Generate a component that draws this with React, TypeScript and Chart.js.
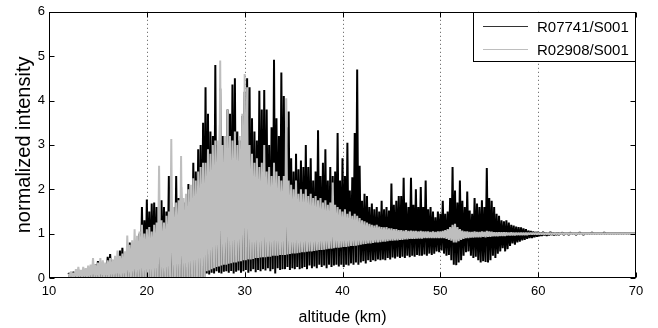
import React, { useEffect, useRef } from "react";
import { Chart, registerables } from "chart.js";

Chart.register(...registerables);

// Altitude sampling of the envelopes (km)
const X_START = 12;
const X_STEP = 0.25;

// Series names
const SERIES_NAMES = ["R07741/S001", "R02908/S001"];

// Axis ticks
const X_TICKS = [10, 20, 30, 40, 50, 60, 70];
const Y_TICKS = [0, 1, 2, 3, 4, 5, 6];
const GRID_X = [20, 30, 40, 50, 60];

// R07741/S001 (black): local maxima per 0.25 km bin
const BLACK_HI = [
  0.12, 0.1, 0.14, 0.1, 0.18, 0.12, 0.2, 0.15,
  0.22, 0.2, 0.28, 0.3, 0.38, 0.3, 0.35, 0.28,
  0.48, 0.54, 0.4, 0.35, 0.45, 0.62, 0.68, 0.5,
  0.55, 0.8, 0.75, 0.6, 0.9, 1.0, 1.6, 1.3,
  1.77, 1.5, 1.68, 1.7, 1.6, 1.35, 1.75, 1.6,
  1.5, 2.3, 1.7, 1.6, 2.3, 1.8, 2.05, 1.7,
  1.8, 2.12, 1.9, 2.6, 2.4, 2.9, 3.0, 3.5,
  4.3, 3.7, 3.3, 3.2, 4.8, 3.0, 4.27, 3.2,
  2.6, 3.8, 3.7, 4.36, 4.5, 3.3, 3.1, 3.65,
  4.2, 4.5, 4.3, 3.6, 3.3, 3.1, 4.22, 3.8,
  4.24, 3.8, 3.0, 3.4, 4.92, 3.6, 3.2, 4.63,
  4.1, 3.4, 3.75, 2.7, 2.4, 2.8, 2.45, 2.65,
  2.5, 3.0, 2.5, 2.7, 2.2, 2.4, 3.33, 2.3,
  2.6, 2.9, 2.2, 2.5, 2.3, 2.4, 3.27, 2.2,
  2.7, 2.3, 3.05, 1.97, 2.27, 3.27, 4.7, 2.53,
  1.74, 1.9, 1.85, 1.6, 1.68, 1.55, 1.6, 1.5,
  1.74, 1.55, 1.6, 1.52, 2.13, 1.65, 1.74, 1.85,
  1.85, 2.26, 1.7, 1.6, 2.26, 1.65, 2.0, 1.6,
  2.05, 1.6, 2.2, 1.55, 1.6, 1.5, 1.37, 1.5,
  1.45, 1.74, 1.45, 1.5, 1.8, 2.5, 1.97, 1.7,
  2.2, 1.74, 1.6, 1.95, 1.52, 1.45, 1.8, 1.68,
  1.6, 1.75, 1.6, 2.48, 1.8, 1.74, 1.6, 1.45,
  1.4, 1.3, 1.28, 1.3, 1.25, 1.2, 1.18, 1.16,
  1.15, 1.14, 1.12, 1.1, 1.07, 1.06, 1.05, 1.04,
  1.04, 1.03, 1.04, 1.03, 1.02, 1.04, 1.03, 1.02,
  1.03, 1.02, 1.03, 1.02, 1.02, 1.03, 1.02, 1.02,
  1.02, 1.03, 1.02, 1.02, 1.02, 1.02, 1.03, 1.02,
  1.02, 1.02, 1.02, 1.03, 1.02, 1.02, 1.02, 1.02,
  1.02, 1.02, 1.02, 1.02, 1.02, 1.02, 1.02, 1.02,
];

// R07741/S001 (black): local minima per bin
const BLACK_LO = [
  0.02, 0.02, 0.02, 0.02, 0.02, 0.02, 0.02, 0.02,
  0.02, 0.02, 0.02, 0.02, 0.02, 0.02, 0.02, 0.02,
  0.02, 0.02, 0.02, 0.02, 0.02, 0.02, 0.02, 0.02,
  0.02, 0.02, 0.02, 0.02, 0.02, 0.02, 0.02, 0.02,
  0.02, 0.02, 0.02, 0.02, 0.02, 0.02, 0.02, 0.02,
  0.02, 0.02, 0.02, 0.02, 0.02, 0.02, 0.02, 0.02,
  0.02, 0.02, 0.02, 0.02, 0.02, 0.02, 0.02, 0.02,
  0.1, 0.08, 0.12, 0.1, 0.15, 0.12, 0.1, 0.14,
  0.15, 0.12, 0.16, 0.1, 0.14, 0.17, 0.12, 0.15,
  0.18, 0.12, 0.15, 0.2, 0.13, 0.18, 0.15, 0.2,
  0.17, 0.22, 0.15, 0.2, 0.1, 0.22, 0.18, 0.2,
  0.2, 0.25, 0.18, 0.22, 0.2, 0.25, 0.2, 0.22,
  0.25, 0.2, 0.28, 0.22, 0.26, 0.22, 0.3, 0.25,
  0.28, 0.22, 0.3, 0.25, 0.28, 0.3, 0.26, 0.3,
  0.25, 0.3, 0.28, 0.33, 0.3, 0.35, 0.3, 0.35,
  0.38, 0.33, 0.4, 0.36, 0.4, 0.38, 0.42, 0.4,
  0.42, 0.4, 0.45, 0.42, 0.46, 0.44, 0.48, 0.45,
  0.48, 0.45, 0.5, 0.47, 0.5, 0.48, 0.52, 0.5,
  0.5, 0.53, 0.5, 0.55, 0.52, 0.55, 0.6, 0.58,
  0.62, 0.55, 0.5, 0.52, 0.4, 0.3, 0.29, 0.35,
  0.4, 0.5, 0.58, 0.6, 0.5, 0.45, 0.48, 0.4,
  0.35, 0.38, 0.36, 0.35, 0.4, 0.5, 0.45, 0.55,
  0.6, 0.67, 0.6, 0.65, 0.72, 0.78, 0.75, 0.8,
  0.82, 0.85, 0.86, 0.88, 0.9, 0.9, 0.92, 0.93,
  0.94, 0.95, 0.96, 0.95, 0.96, 0.97, 0.96, 0.97,
  0.97, 0.98, 0.97, 0.98, 0.97, 0.98, 0.98, 0.97,
  0.98, 0.98, 0.97, 0.98, 0.98, 0.98, 0.98, 0.98,
  0.98, 0.98, 0.98, 0.98, 0.98, 0.98, 0.98, 0.98,
  0.98, 0.98, 0.98, 0.98, 0.98, 0.98, 0.98, 0.98,
];

// R02908/S001 (grey): local maxima per bin
const GREY_HI = [
  0.1, 0.15, 0.12, 0.2, 0.25, 0.18, 0.25, 0.22,
  0.28, 0.3, 0.45, 0.3, 0.35, 0.45, 0.4, 0.35,
  0.4, 0.45, 0.42, 0.5, 0.62, 0.5, 0.55, 0.6,
  0.96, 0.75, 0.85, 1.1, 0.95, 1.05, 1.2, 1.0,
  1.1, 1.15, 1.05, 1.2, 1.25, 2.53, 1.3, 1.25,
  1.4, 1.5, 3.13, 1.6, 1.7, 1.75, 2.75, 1.8,
  1.9, 2.0, 2.1, 2.25, 2.2, 2.4, 2.5, 2.6,
  2.6, 2.9, 2.8, 3.0, 3.1, 3.1, 4.9, 3.0,
  3.2, 3.8, 3.2, 3.1, 3.3, 3.0, 3.2, 3.7,
  4.6, 4.3, 3.0, 2.8, 2.6, 2.7, 2.5, 2.6,
  3.0, 2.4, 2.5, 2.3, 2.6, 2.4, 2.3, 2.2,
  2.3, 4.05, 2.2, 2.1, 2.0, 2.2, 1.9, 2.0,
  1.9, 2.0, 1.85, 1.9, 1.8, 1.85, 1.75, 1.8,
  1.7, 1.75, 1.65, 1.7, 2.15, 1.65, 1.6, 1.55,
  1.5, 1.55, 1.45, 1.5, 1.4, 1.45, 1.4, 1.35,
  1.3, 1.28, 1.25, 1.22, 1.2, 1.18, 1.2, 1.16,
  1.15, 1.14, 1.15, 1.12, 1.12, 1.1, 1.1, 1.08,
  1.08, 1.07, 1.08, 1.06, 1.07, 1.06, 1.06, 1.05,
  1.06, 1.05, 1.05, 1.05, 1.04, 1.05, 1.04, 1.05,
  1.05, 1.06, 1.08, 1.1, 1.15, 1.2, 1.22, 1.15,
  1.1, 1.07, 1.05, 1.05, 1.04, 1.04, 1.05, 1.04,
  1.04, 1.05, 1.04, 1.06, 1.05, 1.04, 1.03, 1.03,
  1.03, 1.03, 1.03, 1.03, 1.02, 1.03, 1.02, 1.02,
  1.02, 1.02, 1.02, 1.02, 1.02, 1.02, 1.02, 1.02,
  1.02, 1.02, 1.02, 1.02, 1.02, 1.02, 1.02, 1.02,
  1.02, 1.02, 1.02, 1.02, 1.02, 1.02, 1.02, 1.02,
  1.02, 1.02, 1.02, 1.02, 1.02, 1.02, 1.02, 1.02,
  1.02, 1.02, 1.02, 1.02, 1.02, 1.02, 1.02, 1.02,
  1.02, 1.02, 1.02, 1.02, 1.02, 1.02, 1.02, 1.02,
];

// R02908/S001 (grey): local minima per bin
const GREY_LO = [
  0.02, 0.02, 0.02, 0.02, 0.02, 0.02, 0.02, 0.02,
  0.02, 0.02, 0.02, 0.02, 0.02, 0.02, 0.02, 0.02,
  0.02, 0.02, 0.02, 0.02, 0.02, 0.02, 0.02, 0.02,
  0.02, 0.02, 0.02, 0.02, 0.02, 0.02, 0.02, 0.02,
  0.02, 0.02, 0.02, 0.02, 0.02, 0.02, 0.02, 0.02,
  0.02, 0.02, 0.02, 0.02, 0.02, 0.02, 0.02, 0.02,
  0.02, 0.02, 0.02, 0.02, 0.02, 0.02, 0.02, 0.02,
  0.15, 0.17, 0.2, 0.22, 0.25, 0.26, 0.28, 0.3,
  0.3, 0.32, 0.33, 0.35, 0.35, 0.37, 0.38, 0.4,
  0.4, 0.42, 0.42, 0.43, 0.45, 0.45, 0.46, 0.47,
  0.47, 0.48, 0.48, 0.5, 0.5, 0.5, 0.52, 0.52,
  0.52, 0.53, 0.54, 0.55, 0.55, 0.56, 0.57, 0.58,
  0.58, 0.59, 0.6, 0.6, 0.61, 0.62, 0.63, 0.63,
  0.64, 0.65, 0.66, 0.66, 0.67, 0.68, 0.68, 0.69,
  0.7, 0.7, 0.71, 0.72, 0.72, 0.73, 0.74, 0.75,
  0.76, 0.77, 0.78, 0.78, 0.79, 0.8, 0.8, 0.81,
  0.82, 0.82, 0.83, 0.84, 0.84, 0.85, 0.85, 0.86,
  0.86, 0.87, 0.87, 0.88, 0.88, 0.88, 0.89, 0.89,
  0.89, 0.9, 0.9, 0.9, 0.9, 0.9, 0.9, 0.9,
  0.9, 0.9, 0.88, 0.86, 0.84, 0.8, 0.8, 0.83,
  0.86, 0.88, 0.9, 0.9, 0.91, 0.91, 0.92, 0.92,
  0.92, 0.93, 0.92, 0.93, 0.93, 0.94, 0.94, 0.94,
  0.95, 0.95, 0.95, 0.96, 0.96, 0.96, 0.96, 0.97,
  0.97, 0.97, 0.97, 0.97, 0.98, 0.98, 0.98, 0.98,
  0.98, 0.98, 0.98, 0.98, 0.98, 0.98, 0.98, 0.98,
  0.98, 0.98, 0.98, 0.98, 0.98, 0.98, 0.98, 0.98,
  0.98, 0.98, 0.98, 0.98, 0.98, 0.98, 0.98, 0.98,
  0.98, 0.98, 0.98, 0.98, 0.98, 0.98, 0.98, 0.98,
  0.98, 0.98, 0.98, 0.98, 0.98, 0.98, 0.98, 0.98,
];

const BLACK = "#000000";
const GREY = "#bebebe";
const FONT = "'Liberation Sans', Arial, Helvetica, sans-serif";

function zigzag(hi: number[], lo: number[]) {
  const pts: { x: number; y: number }[] = [];
  const n = Math.min(hi.length, lo.length);
  for (let i = 0; i < n; i++) {
    const x = X_START + i * X_STEP;
    pts.push({ x, y: hi[i] });
    pts.push({ x: x + X_STEP / 2, y: lo[i] });
  }
  return pts;
}

const framePlugin = {
  id: "matlabFrame",
  beforeDatasetsDraw(chart: any) {
    const { ctx, chartArea: a, scales } = chart;
    ctx.save();
    ctx.strokeStyle = "#555";
    ctx.lineWidth = 1;
    ctx.setLineDash([1, 3]);
    for (const v of GRID_X) {
      const px = Math.round(scales.x.getPixelForValue(v)) + 0.5;
      ctx.beginPath();
      ctx.moveTo(px, a.top);
      ctx.lineTo(px, a.bottom);
      ctx.stroke();
    }
    ctx.restore();
  },
  afterDatasetsDraw(chart: any) {
    const { ctx, chartArea: a, scales } = chart;
    ctx.save();
    ctx.strokeStyle = "#000";
    ctx.lineWidth = 1;
    ctx.setLineDash([]);
    const L = Math.round(a.left) + 0.5;
    const R = Math.round(a.right) - 0.5;
    const T = Math.round(a.top) + 0.5;
    const B = Math.round(a.bottom) - 0.5;
    ctx.strokeRect(L, T, R - L, B - T);
    const tl = 5;
    ctx.beginPath();
    for (const v of X_TICKS) {
      const px = Math.round(scales.x.getPixelForValue(v)) + 0.5;
      ctx.moveTo(px, B);
      ctx.lineTo(px, B - tl);
      ctx.moveTo(px, T);
      ctx.lineTo(px, T + tl);
    }
    for (const v of Y_TICKS) {
      const py = Math.round(scales.y.getPixelForValue(v)) + 0.5;
      ctx.moveTo(L, py);
      ctx.lineTo(L + tl, py);
      ctx.moveTo(R, py);
      ctx.lineTo(R - tl, py);
    }
    ctx.stroke();

    // legend box
    const w = 163;
    const h = 50;
    const bx = Math.round(a.right) - w;
    const by = Math.round(a.top);
    ctx.fillStyle = "#fff";
    ctx.fillRect(bx, by, w, h);
    ctx.strokeRect(bx + 0.5, by + 0.5, w - 1, h - 1);
    const rows = [
      { color: "#333", y: by + 14.5 },
      { color: GREY, y: by + 37.5 },
    ];
    ctx.font = `15px ${FONT}`;
    ctx.textBaseline = "middle";
    ctx.textAlign = "left";
    rows.forEach((r, i) => {
      ctx.strokeStyle = r.color;
      ctx.beginPath();
      ctx.moveTo(bx + 10, r.y);
      ctx.lineTo(bx + 55, r.y);
      ctx.stroke();
      ctx.fillStyle = "#000";
      ctx.fillText(SERIES_NAMES[i], bx + 64, r.y + 1);
    });
    ctx.restore();
  },
};

export default function App() {
  const ref = useRef<HTMLCanvasElement | null>(null);
  useEffect(() => {
    if (!ref.current) return;
    const chart = new Chart(ref.current, {
      type: "line",
      data: {
        datasets: [
          {
            label: SERIES_NAMES[0],
            data: zigzag(BLACK_HI, BLACK_LO),
            borderColor: BLACK,
            borderWidth: 2,
            borderJoinStyle: "bevel",
            pointRadius: 0,
            tension: 0,
            fill: false,
            order: 1,
          },
          {
            label: SERIES_NAMES[1],
            data: zigzag(GREY_HI, GREY_LO),
            borderColor: GREY,
            borderWidth: 2,
            borderJoinStyle: "bevel",
            pointRadius: 0,
            tension: 0,
            fill: false,
            order: 0,
          },
        ],
      },
      options: {
        responsive: false,
        animation: false,
        devicePixelRatio: 1,
        layout: { padding: { left: 0, right: 22, top: 10, bottom: 0 } },
        plugins: {
          legend: { display: false },
          tooltip: { enabled: false },
        },
        scales: {
          x: {
            type: "linear",
            min: 10,
            max: 70,
            offset: false,
            grid: { display: false, drawTicks: false },
            border: { display: false },
            ticks: {
              stepSize: 10,
              padding: 6,
              color: "#000",
              font: { family: FONT, size: 13 },
              maxRotation: 0,
            },
            title: {
              display: true,
              text: "altitude (km)",
              color: "#000",
              font: { family: FONT, size: 16 },
              padding: { top: 0, bottom: 1 },
            },
            afterFit: (s: any) => {
              s.height = 50;
            },
          },
          y: {
            min: 0,
            max: 6,
            grid: { display: false, drawTicks: false },
            border: { display: false },
            ticks: {
              stepSize: 1,
              padding: 4,
              color: "#000",
              font: { family: FONT, size: 13 },
            },
            title: {
              display: true,
              text: "normalized intensity",
              color: "#000",
              font: { family: FONT, size: 20 },
              padding: { top: 12, bottom: 0 },
            },
            afterFit: (s: any) => {
              s.width = 49;
            },
          },
        },
      },
      plugins: [framePlugin],
    });
    return () => chart.destroy();
  }, []);
  return (
    <div style={{ position: "fixed", left: 0, top: 0, width: 658, height: 328, background: "#fff" }}>
      <canvas ref={ref} width={658} height={328} style={{ display: "block" }} />
    </div>
  );
}
